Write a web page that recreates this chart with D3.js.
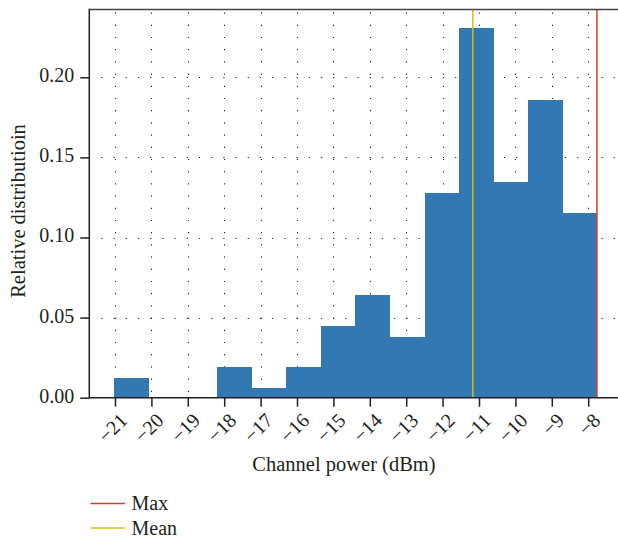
<!DOCTYPE html>
<html>
<head>
<meta charset="utf-8">
<script src="https://cdn.jsdelivr.net/npm/d3@7"></script>
<style>
  html, body { margin: 0; padding: 0; background: #fff; }
  svg { display: block; }
  svg text { font-family: "Liberation Serif", "DejaVu Serif", serif !important; fill: #231f20; }
</style>
</head>
<body>
<svg id="chart" width="618" height="539"></svg>
<script>
// Histogram of channel power: bin edges (dBm) and relative share per bin
const binEdges = [-21.03, -20.07, -19.13, -18.20, -17.24, -16.30, -15.34, -14.41,
                  -13.45, -12.48, -11.55, -10.59, -9.65, -8.69, -7.76];
const relDistribution = [0.0125, 0, 0, 0.0192, 0.0061, 0.0192, 0.0448, 0.0641,
                         0.0379, 0.1278, 0.2308, 0.1347, 0.1858, 0.1155];
const maxPower = -7.76;
const meanPower = -11.17;

const xTicks = [-21, -20, -19, -18, -17, -16, -15, -14, -13, -12, -11, -10, -9, -8];
const yTicks = [0, 0.05, 0.10, 0.15, 0.20];

const legendItems = [
  { label: "Max",  color: "#dc3a2e" },
  { label: "Mean", color: "#cfc414" }
];

// Plot frame
const frame = { left: 89.3, top: 9.5, bottom: 397.7, right: 640 };
const barColor = "#3279b4";
const inkColor = "#231f20";
const serif = "'Liberation Serif', 'DejaVu Serif', serif";

const x = d3.scaleLinear().domain([-21, -8]).range([115, 588.2]);
const y = d3.scaleLinear().domain([0, 0.20]).range([frame.bottom, 77.3]);

const svg = d3.select("#chart");

// Dotted grid
const grid = svg.append("g").attr("stroke", "#222").attr("stroke-width", 1.1)
  .attr("stroke-dasharray", "1.2,11");
grid.selectAll("line.v").data(xTicks).join("line")
  .attr("class", "v")
  .attr("x1", d => Math.round(x(d)) + 0.5).attr("x2", d => Math.round(x(d)) + 0.5)
  .attr("y1", frame.top + 3).attr("y2", frame.bottom);
grid.selectAll("line.h").data(yTicks.filter(d => d > 0)).join("line")
  .attr("class", "h")
  .attr("y1", d => Math.round(y(d)) + 0.5).attr("y2", d => Math.round(y(d)) + 0.5)
  .attr("x1", frame.left + 12).attr("x2", frame.right);

// Histogram bars
const bins = relDistribution.map((v, i) => ({ x0: binEdges[i], x1: binEdges[i + 1], v }));
svg.append("g").selectAll("rect").data(bins.filter(b => b.v > 0)).join("rect")
  .attr("x", d => x(d.x0))
  .attr("width", d => x(d.x1) - x(d.x0))
  .attr("y", d => y(d.v))
  .attr("height", d => y(0) - y(d.v))
  .attr("fill", barColor)
  .attr("shape-rendering", "crispEdges");

// Mean and max markers
svg.append("line")
  .attr("x1", x(meanPower)).attr("x2", x(meanPower))
  .attr("y1", frame.top).attr("y2", frame.bottom)
  .attr("stroke", legendItems[1].color).attr("stroke-width", 1.5);
svg.append("line")
  .attr("x1", x(maxPower)).attr("x2", x(maxPower))
  .attr("y1", frame.top).attr("y2", frame.bottom)
  .attr("stroke", legendItems[0].color).attr("stroke-width", 1.5);

// Frame lines (left, top, bottom)
svg.append("line").attr("x1", frame.left).attr("x2", frame.right)
  .attr("y1", frame.top).attr("y2", frame.top)
  .attr("stroke", "#444").attr("stroke-width", 1.5);
svg.append("line").attr("x1", frame.left).attr("x2", frame.left)
  .attr("y1", frame.top - 0.75).attr("y2", frame.bottom)
  .attr("stroke", inkColor).attr("stroke-width", 1.5);
svg.append("line").attr("x1", frame.left).attr("x2", frame.right)
  .attr("y1", frame.bottom).attr("y2", frame.bottom)
  .attr("stroke", inkColor).attr("stroke-width", 1.5);

// Y axis
const yAxis = svg.append("g")
  .attr("transform", `translate(${frame.left},0)`)
  .call(d3.axisLeft(y).tickValues(yTicks).tickFormat(d3.format(".2f")).tickSize(9).tickPadding(6));
yAxis.attr("font-family", null).attr("font-size", null);
yAxis.select(".domain").remove();
yAxis.selectAll(".tick line").attr("stroke", inkColor).attr("stroke-width", 1.5);
yAxis.selectAll(".tick text").attr("dy", "0.22em")
  .style("font-family", serif).style("font-size", "20px").attr("fill", inkColor);

// X axis with rotated labels
const xAxis = svg.append("g")
  .attr("transform", `translate(0,${frame.bottom})`)
  .call(d3.axisBottom(x).tickValues(xTicks).tickFormat(d => "\u2212" + Math.abs(d)).tickSize(9));
xAxis.attr("font-family", null).attr("font-size", null);
xAxis.select(".domain").remove();
xAxis.selectAll(".tick line").attr("stroke", inkColor).attr("stroke-width", 1.5);
xAxis.selectAll(".tick text")
  .style("font-family", serif).style("font-size", "20px").attr("fill", inkColor)
  .attr("text-anchor", "end")
  .attr("x", 0).attr("y", 0).attr("dy", "0.35em")
  .attr("transform", "translate(8,19) rotate(-45)");

// Axis titles
svg.append("text")
  .attr("x", 344).attr("y", 471)
  .attr("text-anchor", "middle").style("font-size", "20.5px")
  .text("Channel power (dBm)");
svg.append("text")
  .attr("transform", "translate(25,211) rotate(-90)")
  .attr("text-anchor", "middle").style("font-size", "20.5px")
  .text("Relative distributioin");

// Legend
const legend = svg.append("g");
legendItems.forEach((item, i) => {
  const ly = 503.5 + i * 24.5;
  legend.append("line")
    .attr("x1", 90.5).attr("x2", 125).attr("y1", ly).attr("y2", ly)
    .attr("stroke", item.color).attr("stroke-width", 1.5);
  legend.append("text")
    .attr("x", 131.5).attr("y", ly + 6.5).style("font-size", "20px")
    .text(item.label);
});
</script>
</body>
</html>
